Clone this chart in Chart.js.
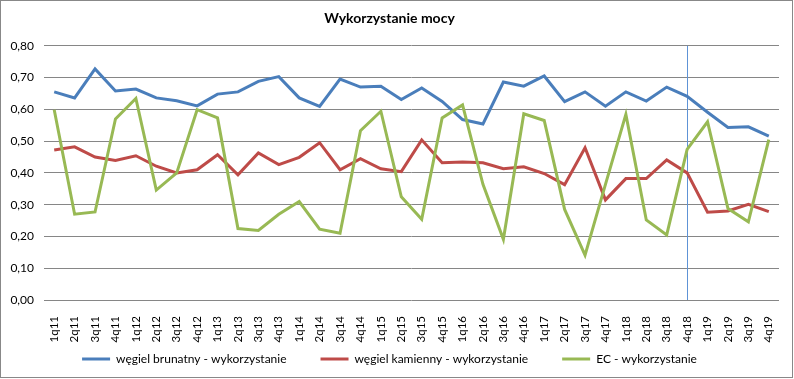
<!DOCTYPE html>
<html>
<head>
<meta charset="utf-8">
<script src="https://cdn.jsdelivr.net/npm/chart.js@4"></script>
<style>
    body { margin: 0; background: #fff; }
    canvas { display: block; }
</style>
</head>
<body>
<canvas id="moc" width="794" height="379"></canvas>
<script>
    // kwartaly
    const categories = ['1q11','2q11','3q11','4q11','1q12','2q12','3q12','4q12','1q13','2q13','3q13','4q13',
        '1q14','2q14','3q14','4q14','1q15','2q15','3q15','4q15','1q16','2q16','3q16','4q16',
        '1q17','2q17','3q17','4q17','1q18','2q18','3q18','4q18','1q19','2q19','3q19','4q19'];

    const brunatny = [0.655,0.636,0.727,0.658,0.664,0.636,0.627,0.611,0.648,0.655,0.688,0.703,
        0.636,0.609,0.695,0.670,0.673,0.631,0.667,0.625,0.568,0.554,0.686,0.673,
        0.705,0.624,0.655,0.610,0.655,0.626,0.670,0.641,0.591,0.543,0.545,0.516];

    const kamienny = [0.472,0.482,0.450,0.439,0.454,0.421,0.400,0.410,0.457,0.394,0.463,0.426,
        0.449,0.495,0.410,0.445,0.413,0.404,0.504,0.432,0.434,0.432,0.413,0.419,
        0.398,0.363,0.479,0.315,0.382,0.382,0.441,0.400,0.276,0.280,0.301,0.278];

    const ec = [0.599,0.270,0.277,0.570,0.634,0.346,0.400,0.599,0.573,0.225,0.219,0.270,
        0.310,0.223,0.210,0.533,0.594,0.325,0.254,0.573,0.614,0.364,0.191,0.586,
        0.565,0.285,0.141,0.364,0.584,0.252,0.205,0.474,0.561,0.288,0.246,0.505];

    const seriesNames = ['węgiel brunatny - wykorzystanie', 'węgiel kamienny - wykorzystanie', 'EC - wykorzystanie'];
    const markerCategory = '4q18';

    const FONT = 'Lato';

    // ramka wokol wykresu + pionowa linia na 4q18
    const frame = {
        id: 'frame',
        afterLayout(chart) {
            // etykiety osi x wchodza pod legende, nie przycinac ich
            chart.scales.x.bottom = chart.scales.x.top + 50;
        },
        beforeDraw(chart) {
            const ctx = chart.ctx;
            ctx.save();
            ctx.fillStyle = '#fff';
            ctx.fillRect(0, 0, chart.width, chart.height);
            ctx.strokeStyle = '#888888';
            ctx.lineWidth = 1;
            ctx.strokeRect(0.5, 0.5, chart.width - 2, chart.height - 2);
            ctx.restore();
        },
        beforeDatasetsDraw(chart) {
            const ctx = chart.ctx;
            const x = Math.round(chart.scales.x.getPixelForValue(categories.indexOf(markerCategory))) + 0.5;
            ctx.save();
            ctx.strokeStyle = '#5e93d6';
            ctx.lineWidth = 1;
            ctx.beginPath();
            ctx.moveTo(x, chart.chartArea.top);
            ctx.lineTo(x, chart.chartArea.bottom);
            ctx.stroke();
            ctx.restore();
        }
    };

    function line(label, data, color, order) {
        return { label: label, data: data, borderColor: color, backgroundColor: color,
                 borderWidth: 3, pointRadius: 0, tension: 0, fill: false, order: order };
    }

    new Chart(document.getElementById('moc'), {
        type: 'line',
        data: {
            labels: categories,
            datasets: [
                line(seriesNames[0], brunatny, '#4a7ebb', 2),
                line(seriesNames[1], kamienny, '#be4b48', 1),
                line(seriesNames[2], ec, '#98b954', 0)
            ]
        },
        options: {
            responsive: false,
            animation: false,
            layout: { padding: { left: 0, right: 15, top: 0, bottom: 4 } },
            plugins: {
                tooltip: { enabled: false },
                title: {
                    display: true,
                    text: 'Wykorzystanie mocy',
                    color: '#000',
                    font: { family: FONT, size: 14, weight: 'bold' },
                    padding: { top: 10, bottom: 19 }
                },
                legend: {
                    position: 'bottom',
                    labels: {
                        color: '#000',
                        font: { family: FONT, size: 12 },
                        boxWidth: 28,
                        boxHeight: 3,
                        padding: 34,
                        sort: (a, b) => a.datasetIndex - b.datasetIndex,
                        generateLabels(chart) {
                            return Chart.defaults.plugins.legend.labels.generateLabels(chart).map(l => {
                                l.lineWidth = 0;
                                l.fillStyle = l.strokeStyle;
                                return l;
                            });
                        }
                    }
                }
            },
            scales: {
                x: {
                    offset: true,
                    grid: { display: false },
                    border: { display: false },
                    ticks: {
                        color: '#000',
                        font: { family: FONT, size: 11.5 },
                        minRotation: 90,
                        maxRotation: 90,
                        autoSkip: false,
                        padding: 8
                    },
                    afterFit(s) { s.height = 19; }
                },
                y: {
                    min: 0,
                    max: 0.8,
                    grid: { color: '#868686', drawTicks: false },
                    border: { display: false },
                    ticks: {
                        stepSize: 0.1,
                        color: '#000',
                        padding: 10,
                        font: { family: FONT, size: 12 },
                        callback: v => v.toFixed(2).replace('.', ',')
                    },
                    afterFit(s) { s.width = 44; }
                }
            }
        },
        plugins: [frame]
    });
</script>
</body>
</html>
